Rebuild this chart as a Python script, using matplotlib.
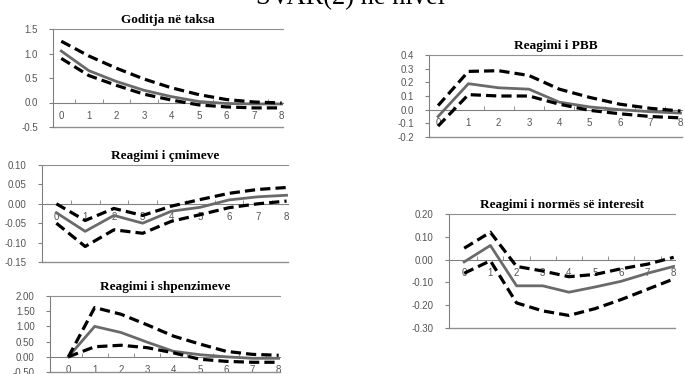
import numpy as np
import matplotlib.pyplot as plt
from matplotlib.ticker import FormatStrFormatter

plt.rcParams['axes.unicode_minus'] = False
plt.rcParams['font.family'] = 'Liberation Sans'

horizon = np.arange(0, 9)

# Impulse responses: median and the two bands
tax_mid = [1.05, 0.65, 0.43, 0.25, 0.12, 0.02, -0.02, -0.03, -0.03]
tax_up = [1.25, 0.95, 0.70, 0.48, 0.30, 0.16, 0.06, 0.01, -0.01]
tax_lo = [0.90, 0.55, 0.35, 0.17, 0.05, -0.05, -0.09, -0.11, -0.11]

price_mid = [-0.023, -0.071, -0.030, -0.050, -0.019, -0.009, 0.010, 0.018, 0.022]
price_up = [0.000, -0.043, -0.012, -0.030, -0.006, 0.011, 0.027, 0.037, 0.042]
price_lo = [-0.050, -0.110, -0.067, -0.076, -0.045, -0.028, -0.010, 0.000, 0.007]

spend_mid = [0.00, 1.00, 0.80, 0.48, 0.18, 0.07, 0.00, -0.05, -0.05]
spend_up = [0.00, 1.62, 1.40, 1.05, 0.68, 0.42, 0.18, 0.08, 0.05]
spend_lo = [0.00, 0.33, 0.38, 0.30, 0.13, -0.08, -0.15, -0.18, -0.18]

gdp_mid = [-0.05, 0.19, 0.16, 0.15, 0.055, 0.02, 0.00, -0.015, -0.025]
gdp_up = [0.03, 0.28, 0.285, 0.25, 0.15, 0.09, 0.04, 0.01, -0.01]
gdp_lo = [-0.12, 0.11, 0.10, 0.10, 0.04, -0.005, -0.03, -0.05, -0.06]

rate_mid = [-0.01, 0.062, -0.115, -0.115, -0.143, -0.12, -0.095, -0.06, -0.03]
rate_up = [0.05, 0.12, -0.03, -0.05, -0.075, -0.065, -0.04, -0.02, 0.01]
rate_lo = [-0.06, -0.005, -0.19, -0.225, -0.245, -0.215, -0.175, -0.13, -0.085]

W, H = 685, 374
fig = plt.figure(figsize=(W / 100, H / 100), dpi=100)

# heading runs off the top edge; size it to ~190 px wide
head = fig.text(350 / W, 1 - 4 / H, "SVAR(2) në nivel", ha='center',
                va='baseline', fontsize=20, family='Liberation Serif')
fig.canvas.draw()
wpx = head.get_window_extent().width
head.set_fontsize(20 * 190 / wpx)


def panel(box, title, mid, up, lo, ylim, ystep, fmt, x0):
    l, t, r, b = box
    ax = fig.add_axes([l / W, 1 - b / H, (r - l) / W, (b - t) / H])
    ax.plot(horizon, mid, color='#6a6a6a', lw=2.0, zorder=3)
    ax.plot(horizon, up, color='black', lw=2.3, ls=(0, (3.2, 1.6)), zorder=3)
    ax.plot(horizon, lo, color='black', lw=2.3, ls=(0, (3.2, 1.6)), zorder=3)
    ax.set_xlim(x0, 8.05)
    ax.set_ylim(*ylim)
    ax.set_yticks(np.arange(ylim[0], ylim[1] + ystep / 2, ystep))
    ax.yaxis.set_major_formatter(FormatStrFormatter(fmt))

    # category axis sits on zero, frame lines at top and bottom
    ax.spines['bottom'].set_position(('data', 0))
    ax.spines['bottom'].set_color('#808080')
    ax.spines['left'].set_color('#808080')
    ax.spines['right'].set_visible(False)
    ax.spines['top'].set_color('#909090')
    ax.axhline(ylim[0], color='#909090', lw=1.0, clip_on=False)

    ax.set_xticks(horizon)
    ax.set_xticks(horizon[:-1] + 0.5, minor=True)
    ax.tick_params(axis='x', which='major', length=0, pad=6,
                   labelsize=7, labelcolor='#555555')
    ax.tick_params(axis='x', which='minor', direction='in', length=3,
                   color='#808080')
    ax.tick_params(axis='y', length=3, color='#808080', labelsize=7,
                   labelcolor='#555555', pad=8)
    ax.set_title(title, fontsize=9.5, fontweight='bold',
                 family='Liberation Serif', pad=4)
    ax.patch.set_alpha(0)
    return ax


panel((53, 29, 283, 127), "Goditja në taksa", tax_mid, tax_up, tax_lo,
      (-0.5, 1.5), 0.5, '%.1f', -0.3)
panel((42, 165, 288, 262), "Reagimi i çmimeve", price_mid, price_up, price_lo,
      (-0.15, 0.10), 0.05, '%.2f', -0.5)
panel((50, 296, 280, 372), "Reagimi i shpenzimeve", spend_mid, spend_up,
      spend_lo, (-0.5, 2.0), 0.5, '%.2f', -0.7)
panel((429, 55, 682, 137), "Reagimi i PBB", gdp_mid, gdp_up, gdp_lo,
      (-0.2, 0.4), 0.1, '%.1f', -0.3)
panel((449, 214, 675, 328), "Reagimi i normës së interesit", rate_mid,
      rate_up, rate_lo, (-0.3, 0.2), 0.1, '%.2f', -0.58)

fig.savefig("out.png", dpi=100)
